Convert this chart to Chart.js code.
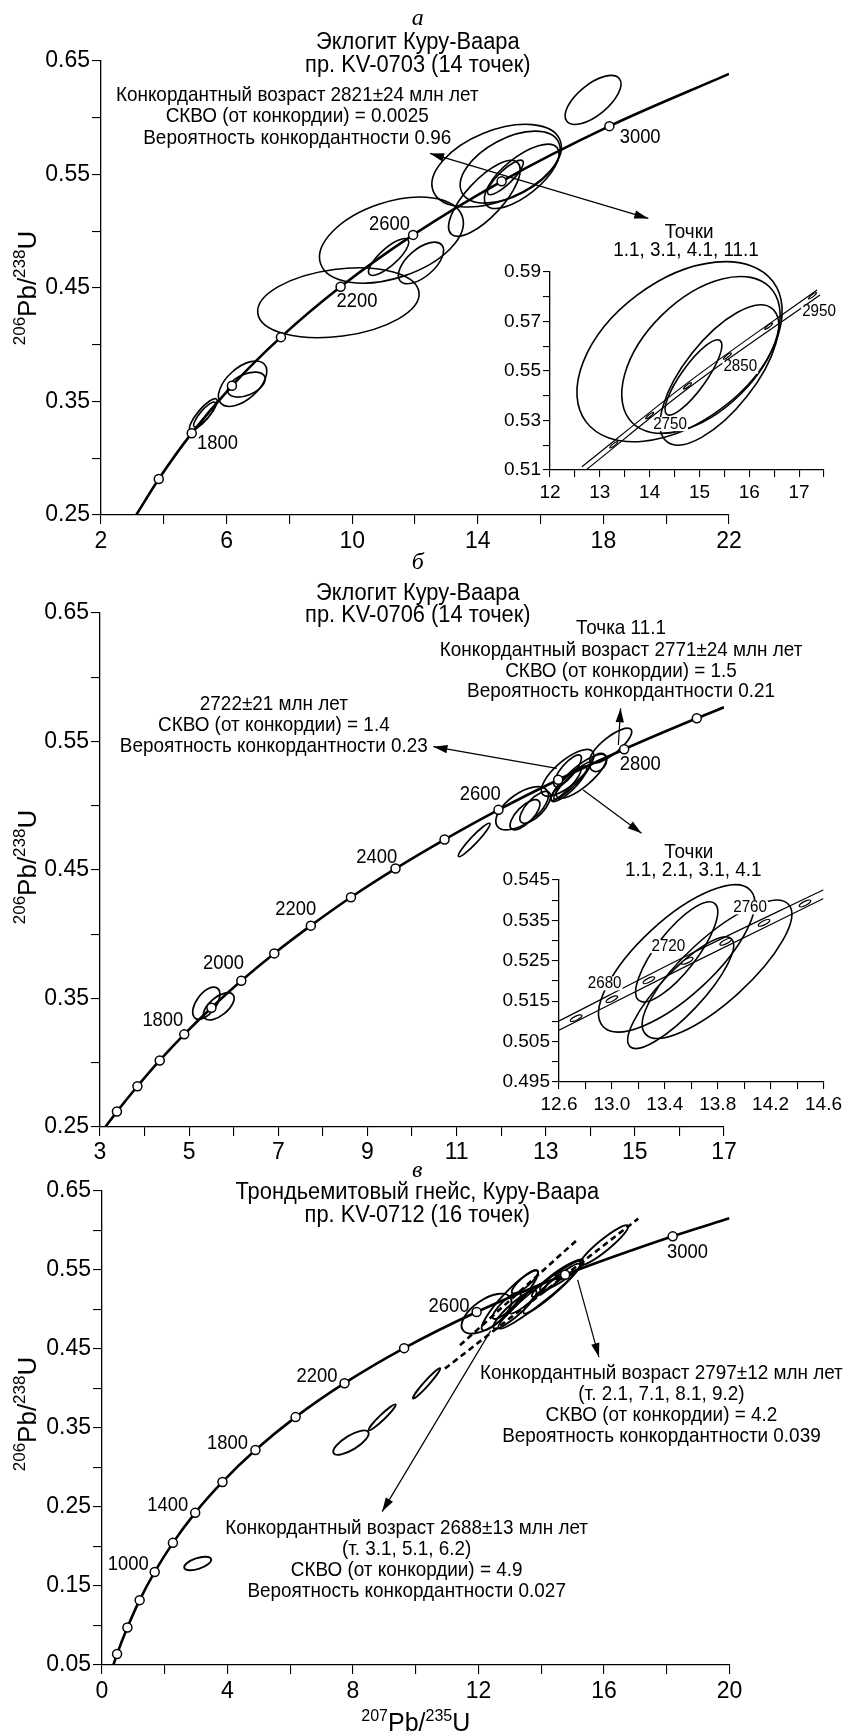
<!DOCTYPE html>
<html>
<head>
<meta charset="utf-8">
<script src="https://cdn.jsdelivr.net/npm/chart.js@4.4.1/dist/chart.umd.min.js"></script>
<style>
  html, body { margin: 0; padding: 0; background: #fff; }
  #page { position: relative; width: 846px; height: 1731px; overflow: hidden; background: #fff; }
  #page canvas { position: absolute; }
</style>
</head>
<body>
<div id="page">
  <canvas id="cA"  width="846" height="560" style="left:0px;top:0px"></canvas>
  <canvas id="cAi" width="366" height="260" style="left:480px;top:250px"></canvas>
  <canvas id="cB"  width="846" height="630" style="left:0px;top:530px"></canvas>
  <canvas id="cBi" width="356" height="262" style="left:490px;top:860px"></canvas>
  <canvas id="cC"  width="846" height="591" style="left:0px;top:1140px"></canvas>
</div>
<script>
// ---------------- data: panel а (KV-0703) ----------------
const aCurveX = [3.12, 3.84, 4.89, 6.17, 7.73, 9.63, 11.94, 14.76, 18.19, 22.0];
const aCurveY = [0.250, 0.2817, 0.3221, 0.3638, 0.4067, 0.4511, 0.4968, 0.5440, 0.5926, 0.6387];
const aMarkX = [3.84, 4.89, 6.17, 7.73, 9.63, 11.94, 14.76, 18.19];
const aMarkY = [0.2817, 0.3221, 0.3638, 0.4067, 0.4511, 0.4968, 0.5440, 0.5926];
// error ellipses: [207Pb/235U, 206Pb/238U, half-width, half-height, correlation]
const aEllipses = [
  [17.67, 0.6157, 0.89, 0.0216, 0.65],
  [14.60, 0.5578, 2.06, 0.0364, 0.45],
  [15.03, 0.5565, 1.59, 0.0317, 0.50],
  [15.40, 0.5484, 1.19, 0.0283, 0.70],
  [14.88, 0.5474, 0.57, 0.0152, 0.85],
  [14.21, 0.5290, 1.14, 0.0334, 0.75],
  [11.25, 0.4922, 2.29, 0.0379, 0.40],
  [9.56, 0.4370, 2.57, 0.0308, 0.25],
  [11.16, 0.4773, 0.64, 0.0162, 0.80],
  [12.19, 0.4721, 0.72, 0.0183, 0.60],
  [6.51, 0.3657, 0.77, 0.0200, 0.55],
  [6.63, 0.3649, 0.60, 0.0110, 0.45],
  [5.26, 0.3385, 0.44, 0.0140, 0.85],
  [5.30, 0.3385, 0.35, 0.0110, 0.85]
];
const aXTicks = [2, 6, 10, 14, 18, 22];
const aYTicks = [0.25, 0.35, 0.45, 0.55, 0.65];

// inset of panel а
const iaEnvUpX = [12.64, 14.76, 17.36];
const iaEnvUpY = [0.5113, 0.5452, 0.5827];
const iaEnvLoX = [12.74, 14.76, 17.42];
const iaEnvLoY = [0.5103, 0.5428, 0.5807];
const iaMarkX = [13.28, 14.00, 14.76, 15.56, 16.39, 17.27];
const iaMarkY = [0.5202, 0.5320, 0.5440, 0.5560, 0.5681, 0.5804];
const iaEllipses = [
  [14.60, 0.5578, 2.06, 0.0364, 0.45],
  [15.03, 0.5565, 1.59, 0.0317, 0.50],
  [15.40, 0.5484, 1.19, 0.0283, 0.70],
  [14.88, 0.5474, 0.57, 0.0152, 0.85]
];
const iaXTicks = [12, 13, 14, 15, 16, 17];
const iaYTicks = [0.51, 0.53, 0.55, 0.57, 0.59];

// ---------------- data: panel б (KV-0706) ----------------
const bCurveX = [3.12, 3.38, 3.84, 4.34, 4.89, 5.50, 6.17, 6.91, 7.73, 8.63, 9.63, 10.73, 11.94, 13.28, 14.76, 16.39, 17.0];
const bCurveY = [0.250, 0.2620, 0.2817, 0.3018, 0.3221, 0.3428, 0.3638, 0.3851, 0.4067, 0.4288, 0.4511, 0.4737, 0.4968, 0.5202, 0.5440, 0.5681, 0.5766];
const bMarkX = [3.38, 3.84, 4.34, 4.89, 5.50, 6.17, 6.91, 7.73, 8.63, 9.63, 10.73, 11.94, 13.28, 14.76, 16.39];
const bMarkY = [0.2620, 0.2817, 0.3018, 0.3221, 0.3428, 0.3638, 0.3851, 0.4067, 0.4288, 0.4511, 0.4737, 0.4968, 0.5202, 0.5440, 0.5681];
const bEllipses = [
  [5.385, 0.3463, 0.305, 0.0125, 0.55],
  [5.665, 0.3439, 0.345, 0.0106, 0.60],
  [11.395, 0.4734, 0.355, 0.0130, 0.95],
  [12.47, 0.4980, 0.59, 0.0168, 0.60],
  [12.765, 0.4987, 0.345, 0.0124, 0.70],
  [12.535, 0.4930, 0.335, 0.0117, 0.70],
  [13.49, 0.5256, 0.59, 0.0182, 0.75],
  [13.49, 0.5272, 0.31, 0.0124, 0.80],
  [13.52, 0.5171, 0.40, 0.0138, 0.85],
  [13.795, 0.5229, 0.565, 0.0171, 0.80],
  [13.60, 0.5195, 0.42, 0.0145, 0.93],
  [13.45, 0.5165, 0.34, 0.0125, 0.90],
  [14.46, 0.5467, 0.47, 0.0136, 0.80],
  [14.18, 0.5337, 0.19, 0.0071, 0.30]
];
const bXTicks = [3, 5, 7, 9, 11, 13, 15, 17];
const bYTicks = [0.25, 0.35, 0.45, 0.55, 0.65];

// inset of panel б
const ibEnvUpX = [12.6, 13.6, 14.6];
const ibEnvUpY = [0.5101, 0.5268, 0.5426];
const ibEnvLoX = [12.6, 13.6, 14.6];
const ibEnvLoY = [0.5078, 0.5243, 0.5404];
const ibMarkX = [12.73, 13.00, 13.28, 13.57, 13.86, 14.15, 14.46];
const ibMarkY = [0.5108, 0.5155, 0.5202, 0.5250, 0.5297, 0.5344, 0.5392];
const ibEllipses = [
  [13.49, 0.5256, 0.59, 0.0182, 0.75],
  [13.49, 0.5272, 0.31, 0.0124, 0.80],
  [13.52, 0.5171, 0.40, 0.0138, 0.85],
  [13.795, 0.5229, 0.565, 0.0171, 0.80]
];
const ibXTicks = [12.6, 13.0, 13.4, 13.8, 14.2, 14.6];
const ibYTicks = [0.495, 0.505, 0.515, 0.525, 0.535, 0.545];

// ---------------- data: panel в (KV-0712) ----------------
const cCurveX = [0.363, 0.48, 0.81, 1.20, 1.68, 2.26, 2.97, 3.84, 4.89, 6.17, 7.73, 9.63, 11.94, 14.76, 18.19, 20.0];
const cCurveY = [0.050, 0.0640, 0.0975, 0.1321, 0.1678, 0.2046, 0.2426, 0.2817, 0.3221, 0.3638, 0.4067, 0.4511, 0.4968, 0.5440, 0.5926, 0.6154];
const cMarkX = [0.48, 0.81, 1.20, 1.68, 2.26, 2.97, 3.84, 4.89, 6.17, 7.73, 9.63, 11.94, 14.76, 18.19];
const cMarkY = [0.0640, 0.0975, 0.1321, 0.1678, 0.2046, 0.2426, 0.2817, 0.3221, 0.3638, 0.4067, 0.4511, 0.4968, 0.5440, 0.5926];
const cDashAX = [10.93, 17.09];
const cDashAY = [0.4252, 0.6150];
const cDashBX = [11.41, 15.15];
const cDashBY = [0.4547, 0.5884];
const cEllipses = [
  [3.05, 0.1785, 0.43, 0.0085, 0.55],
  [7.935, 0.3315, 0.565, 0.0155, 0.75],
  [8.93, 0.3635, 0.43, 0.0165, 0.96],
  [10.345, 0.4065, 0.435, 0.0192, 0.97],
  [16.00, 0.5813, 0.77, 0.0253, 0.93],
  [12.255, 0.4948, 0.795, 0.0253, 0.60],
  [13.00, 0.5116, 0.90, 0.0380, 0.92],
  [13.48, 0.5348, 0.42, 0.0148, 0.85],
  [13.98, 0.5190, 1.35, 0.0433, 0.96],
  [14.33, 0.5264, 0.90, 0.0316, 0.95],
  [14.65, 0.5437, 0.69, 0.0195, 0.90],
  [13.16, 0.5000, 0.69, 0.0243, 0.90],
  [14.90, 0.5500, 0.45, 0.0120, 0.80],
  [13.60, 0.5150, 0.60, 0.0200, 0.93],
  [14.20, 0.5320, 0.50, 0.0160, 0.90],
  [12.90, 0.5050, 0.45, 0.0170, 0.85]
];
const cXTicks = [0, 4, 8, 12, 16, 20];
const cYTicks = [0.05, 0.15, 0.25, 0.35, 0.45, 0.55, 0.65];

// ---------------- drawing helpers ----------------
const SANS = '"Liberation Sans", Arial, Helvetica, sans-serif';
const SERIF = '"Liberation Serif", "Times New Roman", serif';
Chart.defaults.font.family = SANS;
Chart.defaults.color = '#000';

const pts = (xs, ys) => xs.map((v, i) => ({ x: v, y: ys[i] }));

function drawEllipse(ctx, xs, ys, e, fillWhite) {
  const [cx, cy, sx, sy, r] = e;
  const px = xs.getPixelForValue(cx), py = ys.getPixelForValue(cy);
  const Sx = Math.abs(xs.getPixelForValue(cx + sx) - px);
  const Sy = Math.abs(ys.getPixelForValue(cy + sy) - py);
  const a = Sx * Sx, d = Sy * Sy, c = -r * Sx * Sy;
  const th = 0.5 * Math.atan2(2 * c, a - d);
  const m = (a + d) / 2, q = Math.sqrt(((a - d) / 2) ** 2 + c * c);
  const rx = Math.sqrt(m + q), ry = Math.sqrt(Math.max(m - q, 0.3));
  ctx.beginPath();
  ctx.ellipse(px, py, rx, ry, th, 0, Math.PI * 2);
  if (fillWhite) { ctx.fillStyle = '#fff'; ctx.fill(); }
  ctx.stroke();
}

function arrowHead(ctx, x1, y1, x2, y2, len, half) {
  const ang = Math.atan2(y2 - y1, x2 - x1);
  ctx.beginPath();
  ctx.moveTo(x2, y2);
  ctx.lineTo(x2 - len * Math.cos(ang) + half * Math.sin(ang), y2 - len * Math.sin(ang) - half * Math.cos(ang));
  ctx.lineTo(x2 - len * Math.cos(ang) - half * Math.sin(ang), y2 - len * Math.sin(ang) + half * Math.cos(ang));
  ctx.closePath();
  ctx.fill();
}

function isotopeLabel(ctx, cx, cy, rotate, m1, b1, m2, b2, big, small) {
  ctx.save();
  ctx.translate(cx, cy);
  if (rotate) ctx.rotate(-Math.PI / 2);
  ctx.fillStyle = '#000';
  ctx.textBaseline = 'alphabetic';
  ctx.textAlign = 'left';
  const fb = big + 'px ' + SANS, fs = small + 'px ' + SANS;
  ctx.font = fs; const w1 = ctx.measureText(m1).width, w3 = ctx.measureText(m2).width;
  ctx.font = fb; const w2 = ctx.measureText(b1).width, w4 = ctx.measureText(b2).width;
  let x = -(w1 + w2 + w3 + w4) / 2;
  const base = big * 0.36, up = base - big * 0.42;
  ctx.font = fs; ctx.fillText(m1, x, up); x += w1;
  ctx.font = fb; ctx.fillText(b1, x, base); x += w2;
  ctx.font = fs; ctx.fillText(m2, x, up); x += w3;
  ctx.font = fb; ctx.fillText(b2, x, base);
  ctx.restore();
}

// text presets: [font size, horizontal squeeze]
const STYLE = {
  title: [23, 0.95],
  note: [21, 0.9],
  age: [20, 0.92],
  small: [16.5, 0.92],
  letter: [24, 1]
};

const overlay = {
  id: 'overlay',
  beforeDatasetsDraw(chart, args, o) {
    const { ctx } = chart, xs = chart.scales.x, ys = chart.scales.y;
    ctx.save();
    ctx.strokeStyle = '#000';
    ctx.lineWidth = o.ellWidth || 1.6;
    (o.ellipses || []).forEach(e => drawEllipse(ctx, xs, ys, e, false));
    ctx.restore();
  },
  afterDatasetsDraw(chart, args, o) {
    const { ctx } = chart, xs = chart.scales.x, ys = chart.scales.y;
    ctx.save();
    ctx.strokeStyle = '#000';
    ctx.lineWidth = 1.2;
    (o.ovals || []).forEach(e => drawEllipse(ctx, xs, ys, e, true));
    ctx.fillStyle = '#000';
    ctx.lineWidth = 1.2;
    (o.arrows || []).forEach(a => {
      const x1 = xs.getPixelForValue(a.from[0]), y1 = ys.getPixelForValue(a.from[1]);
      const x2 = xs.getPixelForValue(a.to[0]), y2 = ys.getPixelForValue(a.to[1]);
      ctx.beginPath(); ctx.moveTo(x1, y1); ctx.lineTo(x2, y2); ctx.stroke();
      arrowHead(ctx, x1, y1, x2, y2, 14, 4.2);
      if (a.both) arrowHead(ctx, x2, y2, x1, y1, 14, 4.2);
    });
    (o.texts || []).forEach(t => {
      const px = xs.getPixelForValue(t.x), py = ys.getPixelForValue(t.y);
      const [size, squeeze] = STYLE[t.s || 'note'];
      ctx.font = (t.s === 'letter' ? 'italic ' : '') + size + 'px ' + (t.s === 'letter' ? SERIF : SANS);
      ctx.textAlign = 'center';
      ctx.textBaseline = 'middle';
      const w = ctx.measureText(t.t).width * squeeze;
      if (t.bg) {
        ctx.fillStyle = '#fff';
        ctx.fillRect(px - w / 2 - 1, py - size * 0.42, w + 2, size * 0.84);
      }
      ctx.fillStyle = '#000';
      ctx.save();
      ctx.translate(px, py);
      ctx.scale(squeeze, 1);
      ctx.fillText(t.t, 0, 0);
      ctx.restore();
    });
    ctx.restore();
  },
  afterDraw(chart, args, o) {
    const a = chart.chartArea;
    if (o.yTitle) isotopeLabel(chart.ctx, o.yTitle.x, (a.top + a.bottom) / 2 + o.yTitle.dy, true, '206', 'Pb/', '238', 'U', 26, 17);
    if (o.xTitle) isotopeLabel(chart.ctx, (a.left + a.right) / 2, o.xTitle.y, false, '207', 'Pb/', '235', 'U', 25, 16);
  }
};
Chart.register(overlay);

function axis(min, max, step, labels, dec, fontSize, tickLen, pad, isX, fit) {
  return {
    type: 'linear', min: min, max: max,
    afterBuildTicks: s => {
      const n = Math.round((max - min) / step), t = [];
      for (let i = 0; i <= n; i++) t.push({ value: +(min + i * step).toFixed(6) });
      s.ticks = t;
    },
    afterFit: s => { if (isX) s.height = fit; else s.width = fit; },
    ticks: {
      autoSkip: false, maxRotation: 0, minRotation: 0, color: '#000', padding: pad,
      font: { size: fontSize, family: SANS },
      callback: v => labels.some(l => Math.abs(l - v) < 1e-7) ? v.toFixed(dec) : ''
    },
    grid: { drawOnChartArea: false, drawTicks: true, tickLength: tickLen, color: '#000', tickColor: '#000', lineWidth: 1.1 },
    border: { display: true, color: '#000', width: 1.3 }
  };
}

function curveSet(xs, ys, w, dash) {
  return {
    data: pts(xs, ys), showLine: true, borderColor: '#000', borderWidth: w,
    borderDash: dash || [], pointRadius: 0, pointHoverRadius: 0,
    cubicInterpolationMode: 'monotone', fill: false
  };
}
function markSet(xs, ys, r) {
  return {
    data: pts(xs, ys), showLine: false, pointRadius: r, pointHoverRadius: r,
    pointBackgroundColor: '#fff', pointBorderColor: '#000', pointBorderWidth: 1.5
  };
}

function build(id, box, datasets, xAxis, yAxis, plug) {
  const cv = document.getElementById(id);
  return new Chart(cv, {
    type: 'scatter',
    data: { datasets: datasets },
    options: {
      responsive: false, animation: false, events: [],
      layout: { autoPadding: false, padding: { left: 0, top: box.top, right: cv.width - box.right, bottom: 0 } },
      plugins: { legend: { display: false }, tooltip: { enabled: false }, overlay: plug },
      scales: { x: xAxis, y: yAxis }
    }
  });
}

// ---------------- panel а ----------------
build('cA', { top: 61, right: 729 },
  [markSet(aMarkX, aMarkY, 4.5), curveSet(aCurveX, aCurveY, 2.6)],
  axis(2, 22, 2, aXTicks, 0, 23, 9, 4, true, 560 - 515),
  axis(0.25, 0.65, 0.05, aYTicks, 2, 23, 9, 2, false, 101),
  {
    ellipses: aEllipses,
    ellWidth: 1.6,
    arrows: [{ from: [12.48, 0.5686], to: [19.43, 0.5113], both: true }],
    texts: [
      { t: 'а', x: 12.09, y: 0.6876, s: 'letter' },
      { t: 'Эклогит Куру-Ваара', x: 12.09, y: 0.6663, s: 'title' },
      { t: 'пр. KV-0703 (14 точек)', x: 12.09, y: 0.6461, s: 'title' },
      { t: 'Конкордантный возраст 2821±24 млн лет', x: 8.25, y: 0.6197 },
      { t: 'СКВО (от конкордии) = 0.0025', x: 8.25, y: 0.6012 },
      { t: 'Вероятность конкордантности 0.96', x: 8.25, y: 0.5824 },
      { t: 'Точки', x: 20.73, y: 0.4990 },
      { t: '1.1, 3.1, 4.1, 11.1', x: 20.63, y: 0.4831 },
      { t: '3000', x: 19.17, y: 0.5823, s: 'age' },
      { t: '2600', x: 11.19, y: 0.5058, s: 'age' },
      { t: '2200', x: 10.15, y: 0.4385, s: 'age' },
      { t: '1800', x: 5.71, y: 0.3133, s: 'age' }
    ],
    yTitle: { x: 27, dy: 0 }
  });

build('cAi', { top: 22, right: 344 },
  [curveSet(iaEnvUpX, iaEnvUpY, 1.2), curveSet(iaEnvLoX, iaEnvLoY, 1.2)],
  axis(12, 17.5, 0.5, iaXTicks, 0, 19, 7, 4, true, 260 - 220),
  axis(0.51, 0.59, 0.01, iaYTicks, 2, 19, 7, 2, false, 70),
  {
    ellipses: iaEllipses,
    ellWidth: 1.6,
    ovals: iaMarkX.map((v, i) => [v, iaMarkY[i], 0.08, 0.0013, 0.9]),
    texts: [
      { t: '2950', x: 17.40, y: 0.5740, s: 'small', bg: true },
      { t: '2850', x: 15.82, y: 0.5517, s: 'small', bg: true },
      { t: '2750', x: 14.41, y: 0.5285, s: 'small', bg: true }
    ]
  });

// ---------------- panel б ----------------
build('cB', { top: 83, right: 724 },
  [markSet(bMarkX, bMarkY, 4.5), curveSet(bCurveX, bCurveY, 2.6)],
  axis(3, 17, 1, bXTicks, 0, 23, 9, 3, true, 630 - 597),
  axis(0.25, 0.65, 0.05, bYTicks, 2, 23, 9, 2, false, 100),
  {
    ellipses: bEllipses,
    ellWidth: 1.7,
    arrows: [
      { from: [13.25, 0.5291], to: [10.48, 0.5460] },
      { from: [14.63, 0.5473], to: [14.68, 0.5758] },
      { from: [13.84, 0.5123], to: [15.15, 0.4786] }
    ],
    texts: [
      { t: 'б', x: 10.13, y: 0.6889, s: 'letter' },
      { t: 'Эклогит Куру-Ваара', x: 10.13, y: 0.6653, s: 'title' },
      { t: 'пр. KV-0706 (14 точек)', x: 10.13, y: 0.6481, s: 'title' },
      { t: 'Точка 11.1', x: 14.69, y: 0.6379 },
      { t: 'Конкордантный возраст 2771±24 млн лет', x: 14.69, y: 0.6207 },
      { t: 'СКВО (от конкордии) = 1.5', x: 14.69, y: 0.6049 },
      { t: 'Вероятность конкордантности 0.21', x: 14.69, y: 0.5890 },
      { t: '2722±21 млн лет', x: 6.90, y: 0.5790 },
      { t: 'СКВО (от конкордии) = 1.4', x: 6.90, y: 0.5625 },
      { t: 'Вероятность конкордантности 0.23', x: 6.90, y: 0.5467 },
      { t: 'Точки', x: 16.21, y: 0.4638 },
      { t: '1.1, 2.1, 3.1, 4.1', x: 16.31, y: 0.4500 },
      { t: '1800', x: 4.41, y: 0.3330, s: 'age' },
      { t: '2000', x: 5.77, y: 0.3776, s: 'age' },
      { t: '2200', x: 7.39, y: 0.4193, s: 'age' },
      { t: '2400', x: 9.21, y: 0.4596, s: 'age' },
      { t: '2600', x: 11.53, y: 0.5085, s: 'age' },
      { t: '2800', x: 15.12, y: 0.5318, s: 'age' }
    ],
    yTitle: { x: 27, dy: -3 }
  });

build('cBi', { top: 20, right: 336 },
  [curveSet(ibEnvUpX, ibEnvUpY, 1.2), curveSet(ibEnvLoX, ibEnvLoY, 1.2)],
  axis(12.6, 14.6, 0.2, ibXTicks, 1, 19, 7, 4, true, 262 - 222),
  axis(0.495, 0.545, 0.005, ibYTicks, 3, 19, 7, 2, false, 69),
  {
    ellipses: ibEllipses,
    ellWidth: 1.6,
    ovals: ibMarkX.map((v, i) => [v, ibMarkY[i], 0.0435, 0.00083, 0.75]),
    texts: [
      { t: '2680', x: 12.945, y: 0.5194, s: 'small', bg: true },
      { t: '2720', x: 13.427, y: 0.5286, s: 'small', bg: true },
      { t: '2760', x: 14.045, y: 0.5382, s: 'small', bg: true }
    ]
  });

// ---------------- panel в ----------------
build('cC', { top: 51, right: 729.5 },
  [markSet(cMarkX, cMarkY, 4.5), curveSet(cDashAX, cDashAY, 2.6, [6, 4]), curveSet(cDashBX, cDashBY, 2.6, [6, 4]), curveSet(cCurveX, cCurveY, 2.6)],
  axis(0, 20, 2, cXTicks, 0, 23, 9, 4, true, 591 - 525),
  axis(0.05, 0.65, 0.05, cYTicks, 2, 23, 9, 2, false, 102),
  {
    ellipses: cEllipses,
    ellWidth: 1.9,
    arrows: [
      { from: [15.16, 0.5375], to: [15.84, 0.4398] },
      { from: [12.39, 0.4733], to: [8.93, 0.2442] }
    ],
    texts: [
      { t: 'в', x: 10.05, y: 0.6762, s: 'letter' },
      { t: 'Трондьемитовый гнейс, Куру-Ваара', x: 10.05, y: 0.6473, s: 'title' },
      { t: 'пр. KV-0712 (16 точек)', x: 10.05, y: 0.6187, s: 'title' },
      { t: 'Конкордантный возраст 2797±12 млн лет', x: 17.83, y: 0.4192 },
      { t: '(т. 2.1, 7.1, 8.1, 9.2)', x: 17.83, y: 0.3922 },
      { t: 'СКВО (от конкордии) = 4.2', x: 17.83, y: 0.3661 },
      { t: 'Вероятность конкордантности 0.039', x: 17.83, y: 0.3396 },
      { t: 'Конкордантный возраст 2688±13 млн лет', x: 9.71, y: 0.2228 },
      { t: '(т. 3.1, 5.1, 6.2)', x: 9.71, y: 0.1965 },
      { t: 'СКВО (от конкордии) = 4.9', x: 9.71, y: 0.1703 },
      { t: 'Вероятность конкордантности 0.027', x: 9.71, y: 0.1440 },
      { t: '1000', x: 0.835, y: 0.1775, s: 'age' },
      { t: '1400', x: 2.095, y: 0.2514, s: 'age' },
      { t: '1800', x: 4.00, y: 0.3310, s: 'age' },
      { t: '2200', x: 6.85, y: 0.4146, s: 'age' },
      { t: '2600', x: 11.06, y: 0.5043, s: 'age' },
      { t: '3000', x: 18.66, y: 0.5720, s: 'age' }
    ],
    yTitle: { x: 27, dy: -14 },
    xTitle: { y: 582 }
  });
</script>
</body>
</html>
